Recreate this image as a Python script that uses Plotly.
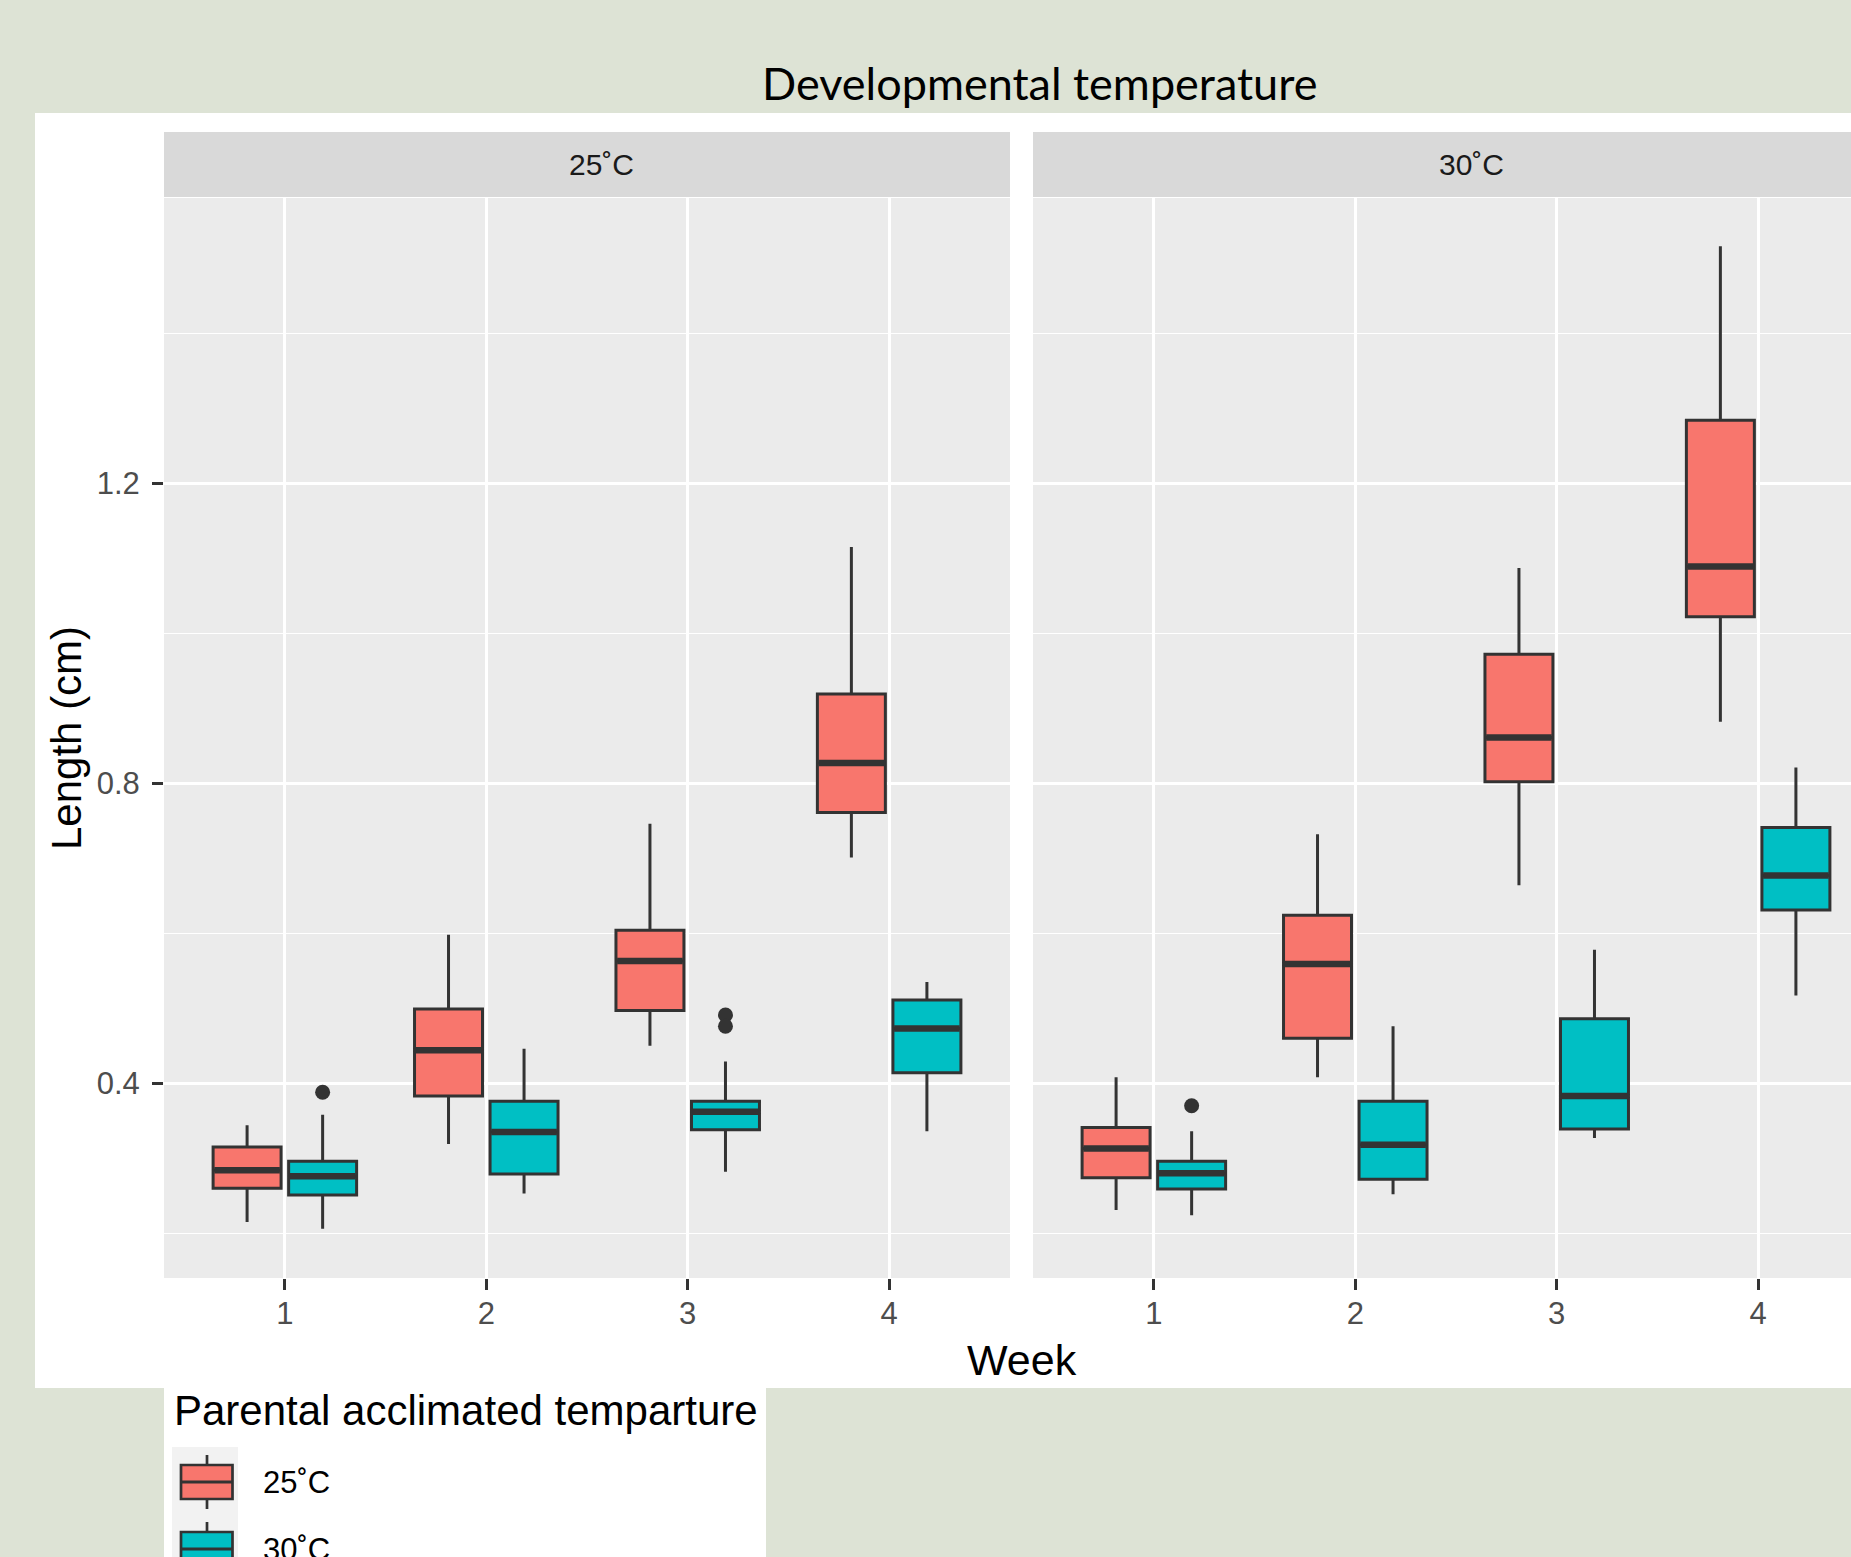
import plotly.graph_objects as go

# ---------------- data ----------------
weeks = [1, 2, 3, 4]
dev_temps = ["25˚C", "30˚C"]
parental = ["25˚C", "30˚C"]
colors = {"25˚C": "#F8766D", "30˚C": "#00BFC4"}

# Developmental temperature 25˚C
d25_p25_lower = [0.215, 0.319, 0.450, 0.701]
d25_p25_q1 = [0.260, 0.383, 0.497, 0.761]
d25_p25_med = [0.284, 0.444, 0.563, 0.827]
d25_p25_q3 = [0.315, 0.499, 0.604, 0.919]
d25_p25_upper = [0.344, 0.598, 0.746, 1.115]

d25_p30_lower = [0.206, 0.253, 0.282, 0.336]
d25_p30_q1 = [0.251, 0.279, 0.338, 0.414]
d25_p30_med = [0.276, 0.335, 0.362, 0.473]
d25_p30_q3 = [0.296, 0.376, 0.376, 0.511]
d25_p30_upper = [0.358, 0.446, 0.429, 0.535]
d25_p30_out_week = [1, 3, 3]
d25_p30_out_val = [0.388, 0.491, 0.476]

# Developmental temperature 30˚C
d30_p25_lower = [0.231, 0.408, 0.664, 0.882]
d30_p25_q1 = [0.274, 0.460, 0.802, 1.022]
d30_p25_med = [0.313, 0.559, 0.861, 1.089]
d30_p25_q3 = [0.341, 0.624, 0.972, 1.284]
d30_p25_upper = [0.408, 0.732, 1.087, 1.516]

d30_p30_lower = [0.224, 0.252, 0.327, 0.517]
d30_p30_q1 = [0.259, 0.272, 0.339, 0.631]
d30_p30_med = [0.280, 0.318, 0.383, 0.677]
d30_p30_q3 = [0.296, 0.376, 0.486, 0.741]
d30_p30_upper = [0.336, 0.476, 0.578, 0.821]
d30_p30_out_week = [1]
d30_p30_out_val = [0.370]

y_ticks = [0.4, 0.8, 1.2]
y_tick_labels = ["0.4", "0.8", "1.2"]

# ---------------- layout constants ----------------
W, H = 1851, 1557
def px(x):
    return x / W
def py(y):
    return 1 - y / H

DODGE = 0.1875
BOXW = 0.3375
DARK = "#333333"
FONT = "Liberation Sans, Arial, sans-serif"

series = [
    # (panel index, parental, lower, q1, med, q3, upper, outlier weeks, outlier values)
    (1, "25˚C", d25_p25_lower, d25_p25_q1, d25_p25_med, d25_p25_q3, d25_p25_upper, [], []),
    (1, "30˚C", d25_p30_lower, d25_p30_q1, d25_p30_med, d25_p30_q3, d25_p30_upper, d25_p30_out_week, d25_p30_out_val),
    (2, "25˚C", d30_p25_lower, d30_p25_q1, d30_p25_med, d30_p25_q3, d30_p25_upper, [], []),
    (2, "30˚C", d30_p30_lower, d30_p30_q1, d30_p30_med, d30_p30_q3, d30_p30_upper, d30_p30_out_week, d30_p30_out_val),
]

fig = go.Figure()
for panel, par, lo, q1, med, q3, up, ow, ov in series:
    off = -DODGE if par == "25˚C" else DODGE
    xs = [w + off for w in weeks]
    xa = "x" if panel == 1 else "x2"
    ya = "y" if panel == 1 else "y2"
    fig.add_trace(go.Box(
        x=xs, q1=q1, median=med, q3=q3, lowerfence=lo, upperfence=up,
        width=BOXW, whiskerwidth=0, boxpoints=False,
        fillcolor=colors[par], line=dict(color=DARK, width=3),
        xaxis=xa, yaxis=ya, showlegend=False, name=par,
    ))
    # thick median bar (ggplot fatten)
    mx, my = [], []
    for x, m in zip(xs, med):
        mx += [x - BOXW / 2 + 0.006, x + BOXW / 2 - 0.006, None]
        my += [m, m, None]
    fig.add_trace(go.Scatter(
        x=mx, y=my, mode="lines", line=dict(color=DARK, width=6.5),
        xaxis=xa, yaxis=ya, showlegend=False, hoverinfo="skip",
    ))
    if ow:
        fig.add_trace(go.Scatter(
            x=[w + off for w in ow], y=ov, mode="markers",
            marker=dict(color=DARK, size=15),
            xaxis=xa, yaxis=ya, showlegend=False,
        ))

# ---------------- background shapes ----------------
shapes = []
def rect(x0, y0, x1, y1, color):
    shapes.append(dict(type="rect", xref="paper", yref="paper",
                       x0=px(x0), x1=px(x1), y0=py(y1), y1=py(y0),
                       fillcolor=color, line=dict(width=0), layer="below"))

rect(35, 113, W, 1388, "white")          # plot panel
rect(164, 1388, 766, H, "white")         # legend box
rect(172, 1447, 238, H, "#F2F2F2")       # legend key background
rect(164, 132, 1010, 197, "#D9D9D9")     # strip 1
rect(1033, 132, W, 197, "#D9D9D9")       # strip 2
for xr, yr in [("x domain", "y domain"), ("x2 domain", "y2 domain")]:
    shapes.append(dict(type="rect", xref=xr, yref=yr, x0=0, x1=1, y0=0, y1=1,
                       fillcolor="#EBEBEB", line=dict(width=0), layer="below"))

# legend glyphs
annotations = []
row_step = 67
for i, par in enumerate(parental):
    cy = 1482 + i * row_step
    xl, xr, xc = 181, 232.5, 207
    shapes.append(dict(type="line", xref="paper", yref="paper",
                       x0=px(xc), x1=px(xc), y0=py(cy - 27), y1=py(cy + 27),
                       line=dict(color=DARK, width=2.7)))
    shapes.append(dict(type="rect", xref="paper", yref="paper",
                       x0=px(xl), x1=px(xr), y0=py(cy + 17), y1=py(cy - 17),
                       fillcolor=colors[par], line=dict(color=DARK, width=2.7)))
    shapes.append(dict(type="line", xref="paper", yref="paper",
                       x0=px(xl), x1=px(xr), y0=py(cy), y1=py(cy),
                       line=dict(color=DARK, width=3)))
    annotations.append(dict(text=par, x=px(261), y=py(cy), xref="paper", yref="paper",
                            xanchor="left", yanchor="middle", showarrow=False,
                            font=dict(family=FONT, size=31, color="black")))

annotations += [
    dict(text="Parental acclimated temparture", x=px(172), y=py(1410), xref="paper", yref="paper",
         xanchor="left", yanchor="middle", showarrow=False,
         font=dict(family=FONT, size=42, color="black")),
    dict(text="Developmental temperature", x=px(1039), y=py(83), xref="paper", yref="paper",
         xanchor="center", yanchor="middle", showarrow=False,
         font=dict(family="Lato, Carlito, sans-serif", size=45, color="black")),
    dict(text=dev_temps[0], x=px(601), y=py(165), xref="paper", yref="paper",
         xanchor="center", yanchor="middle", showarrow=False,
         font=dict(family=FONT, size=30, color="#1A1A1A")),
    dict(text=dev_temps[1], x=px(1471), y=py(165), xref="paper", yref="paper",
         xanchor="center", yanchor="middle", showarrow=False,
         font=dict(family=FONT, size=30, color="#1A1A1A")),
    dict(text="Week", x=px(1022), y=py(1360), xref="paper", yref="paper",
         xanchor="center", yanchor="middle", showarrow=False,
         font=dict(family=FONT, size=43, color="black")),
    dict(text="Length (cm)", x=px(66), y=py(738), xref="paper", yref="paper",
         xanchor="center", yanchor="middle", showarrow=False, textangle=-90,
         font=dict(family=FONT, size=42, color="black")),
]

# ---------------- axes ----------------
px_per_unit = (1010 - 164) / 4.2
x2_max = 0.4 + (W - 1033) / px_per_unit
y_lo = 0.4 - (1278 - 1083.3) / 750
y_hi = 0.4 + (1083.3 - 198) / 750

xcommon = dict(tickmode="array", tickvals=weeks, ticktext=[str(w) for w in weeks],
               showgrid=True, gridcolor="white", gridwidth=2.6, zeroline=False,
               showline=False, ticks="outside", ticklen=11, tickwidth=2.5, tickcolor=DARK,
               tickfont=dict(family=FONT, size=31, color="#4D4D4D"), ticklabelstandoff=-3)
ycommon = dict(range=[y_lo, y_hi], tickmode="array", tickvals=y_ticks, ticktext=y_tick_labels,
               showgrid=True, gridcolor="white", gridwidth=2.6, zeroline=False, showline=False,
               minor=dict(tickmode="array", tickvals=[0.2, 0.6, 1.0, 1.4], showgrid=True,
                          gridcolor="white", gridwidth=1.3, ticks=""),
               domain=[py(1278), py(198)])

fig.update_layout(
    width=W, height=H, margin=dict(l=0, r=0, t=0, b=0),
    paper_bgcolor="#DDE3D5", plot_bgcolor="rgba(0,0,0,0)",
    showlegend=False,
    xaxis=dict(domain=[px(164), px(1010)], range=[0.4, 4.6], anchor="y", **xcommon),
    xaxis2=dict(domain=[px(1033), 1.0], range=[0.4, x2_max], anchor="y2", **xcommon),
    yaxis=dict(anchor="x", ticks="outside", ticklen=11, tickwidth=2.5, tickcolor=DARK,
               tickfont=dict(family=FONT, size=31, color="#4D4D4D"), ticklabelstandoff=6,
               **ycommon),
    yaxis2=dict(anchor="x2", matches="y", showticklabels=False, ticks="", **ycommon),
    shapes=shapes, annotations=annotations,
)

fig.write_html("out.html")
